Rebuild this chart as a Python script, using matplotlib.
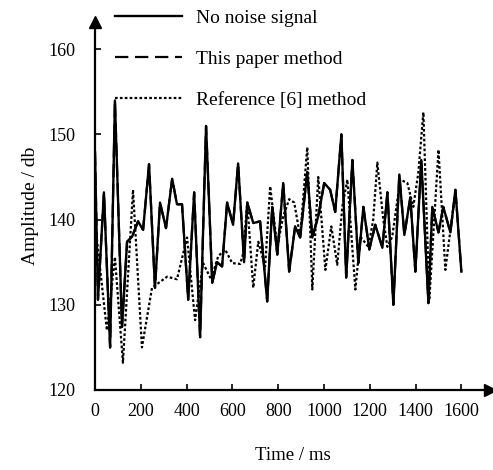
import numpy as np
import matplotlib
matplotlib.use("Agg")
import matplotlib.pyplot as plt

plt.rcParams["font.family"] = ["Liberation Serif", "DejaVu Serif"]

# no noise signal
signal_t = [0, 13, 39, 66, 87, 118, 140, 162, 188, 210, 236, 262, 284, 310, 337, 358,
            380, 407, 433, 459, 485, 512, 533, 555, 577, 603, 625, 651, 665, 691, 721,
            752, 774, 796, 822, 848, 874, 896, 927, 949, 975, 1001, 1027, 1049, 1076,
            1097, 1124, 1150, 1172, 1198, 1224, 1255, 1277, 1303, 1329, 1351, 1377,
            1399, 1425, 1456, 1473, 1500, 1521, 1552, 1574, 1600]
signal_y = [147.9, 130.6, 143.2, 125.0, 154.0, 127.4, 137.4, 138.0, 139.8, 138.8, 146.5,
            132.0, 142.0, 139.0, 144.8, 141.8, 141.8, 130.6, 143.2, 126.2, 151.0, 132.6,
            135.0, 134.5, 142.0, 139.4, 146.6, 135.0, 142.0, 139.6, 139.8, 130.4, 141.5,
            135.9, 144.3, 133.9, 139.2, 137.9, 145.6, 137.9, 140.4, 144.3, 143.5, 140.9,
            150.0, 133.2, 147.0, 134.9, 141.5, 136.5, 139.4, 136.7, 143.2, 130.0, 145.3,
            138.2, 142.6, 133.9, 147.0, 130.2, 141.5, 138.5, 141.5, 138.5, 143.5, 133.9]

# this paper method (lies on top of the clean signal)
paper_t = list(signal_t)
paper_y = list(signal_y)

# reference [6] method
ref_t = [0, 13, 52, 87, 122, 166, 205, 249, 315, 358, 402, 437, 472, 507, 538, 568,
         599, 634, 647, 665, 691, 713, 743, 765, 796, 822, 848, 870, 896, 927, 949,
         975, 1006, 1032, 1058, 1080, 1102, 1137, 1159, 1194, 1215, 1233, 1259, 1277,
         1298, 1333, 1364, 1390, 1412, 1434, 1460, 1500, 1530, 1565, 1582]
ref_y = [140.0, 136.5, 127.0, 135.6, 123.2, 143.5, 125.0, 132.0, 133.3, 133.0, 137.9,
         128.2, 134.9, 133.0, 135.7, 136.5, 134.9, 134.8, 136.0, 142.0, 132.0, 137.4,
         134.5, 143.9, 136.8, 140.4, 142.4, 142.0, 138.0, 148.5, 131.8, 145.0, 134.1,
         139.2, 134.7, 141.5, 144.7, 131.8, 138.0, 136.8, 140.0, 146.7, 140.0, 136.8,
         138.0, 144.7, 144.3, 141.5, 145.5, 152.6, 130.6, 148.2, 134.1, 141.5, 142.0]

x_ticks = [0, 200, 400, 600, 800, 1000, 1200, 1400, 1600]
y_ticks = [120, 130, 140, 150, 160]

W, H = 493, 470
fig = plt.figure(figsize=(W / 100, H / 100), dpi=100)
ax = fig.add_axes([95 / W, (H - 390) / H, (490 - 95) / W, (390 - 22) / H])

ax.plot(paper_t, paper_y, color="black", linewidth=1.6, linestyle=(0, (6, 3)),
        label="This paper method", zorder=2)
ax.plot(ref_t, ref_y, color="black", linewidth=1.6, linestyle=(0, (1.2, 1.0)),
        label="Reference [6] method", zorder=2)
ax.plot(signal_t, signal_y, color="black", linewidth=1.7, linestyle="-",
        label="No noise signal", zorder=3)

ax.set_xlim(0, 1725)
ax.set_ylim(120, 163.2)
ax.set_xticks(x_ticks)
ax.set_yticks(y_ticks)
ax.tick_params(direction="in", length=4, width=1.2, labelsize=13)
ax.tick_params(axis="y", pad=14)
ax.tick_params(axis="x", pad=9)

for s in ("top", "right"):
    ax.spines[s].set_visible(False)
for s in ("left", "bottom"):
    ax.spines[s].set_linewidth(1.6)

# arrow heads
ax.plot(1, 0, ">", color="black", markersize=9, transform=ax.transAxes, clip_on=False)
ax.plot(0, 1, "^", color="black", markersize=9, transform=ax.transAxes, clip_on=False)

ax.set_xlabel("Time / ms", fontsize=13.5, labelpad=20)
ax.set_ylabel("Amplitude / db", fontsize=14, labelpad=7)

h, l = ax.get_legend_handles_labels()
order = [2, 0, 1]
fig.legend([h[i] for i in order], [l[i] for i in order], loc="upper left",
           bbox_to_anchor=(115 / W, 1 - 9 / H), frameon=False, fontsize=14,
           handlelength=3.45, handletextpad=0.7, labelspacing=1.2,
           borderpad=0, borderaxespad=0)

fig.savefig("out.png", dpi=100)
